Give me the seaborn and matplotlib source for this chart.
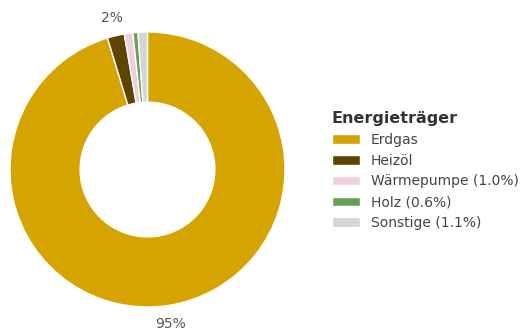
import matplotlib
matplotlib.use("Agg")
import matplotlib.pyplot as plt
import seaborn as sns

categories = ["Erdgas", "Heizöl", "Wärmepumpe", "Holz", "Sonstige"]
values = [95.3, 2.0, 1.0, 0.6, 1.1]
legend_labels = ["Erdgas", "Heizöl", "Wärmepumpe (1.0%)", "Holz (0.6%)", "Sonstige (1.1%)"]
colors = ["#D6A400", "#5E4400", "#EDD0DA", "#6B9E55", "#D5D5D5"]
legend_title = "Energieträger"

sns.set_theme(style="white")
plt.rcParams['font.family'] = ['DejaVu Sans']

fig = plt.figure(figsize=(5.24, 3.34), dpi=100)
ax = fig.add_axes([10/524, 27/334, 275/524, 275/334])

def fmt(p):
    return f"{p:.0f}%" if p >= 1.5 else ""

wedges, texts, autotexts = ax.pie(
    values, colors=colors, startangle=90, counterclock=False,
    radius=1.0, autopct=fmt, pctdistance=1.135,
    wedgeprops=dict(width=0.51, edgecolor="white", linewidth=1),
    textprops=dict(fontsize=10, color="#555555"))
ax.set_xlim(-1, 1)
ax.set_ylim(-1, 1)
ax.set_aspect("equal")
ax.axis("off")

leg = fig.legend(wedges, legend_labels, title=legend_title,
                 loc="upper left", bbox_to_anchor=(332/524, 1 - 111/334),
                 frameon=False, fontsize=10, alignment="left",
                 title_fontproperties=dict(weight="bold", size=11.5),
                 labelcolor="#444444", handlelength=2.0, handleheight=0.7,
                 labelspacing=0.49, handletextpad=0.8, borderaxespad=0,
                 borderpad=0)
leg.get_title().set_color("#333333")

fig.savefig("out.png", dpi=100)
